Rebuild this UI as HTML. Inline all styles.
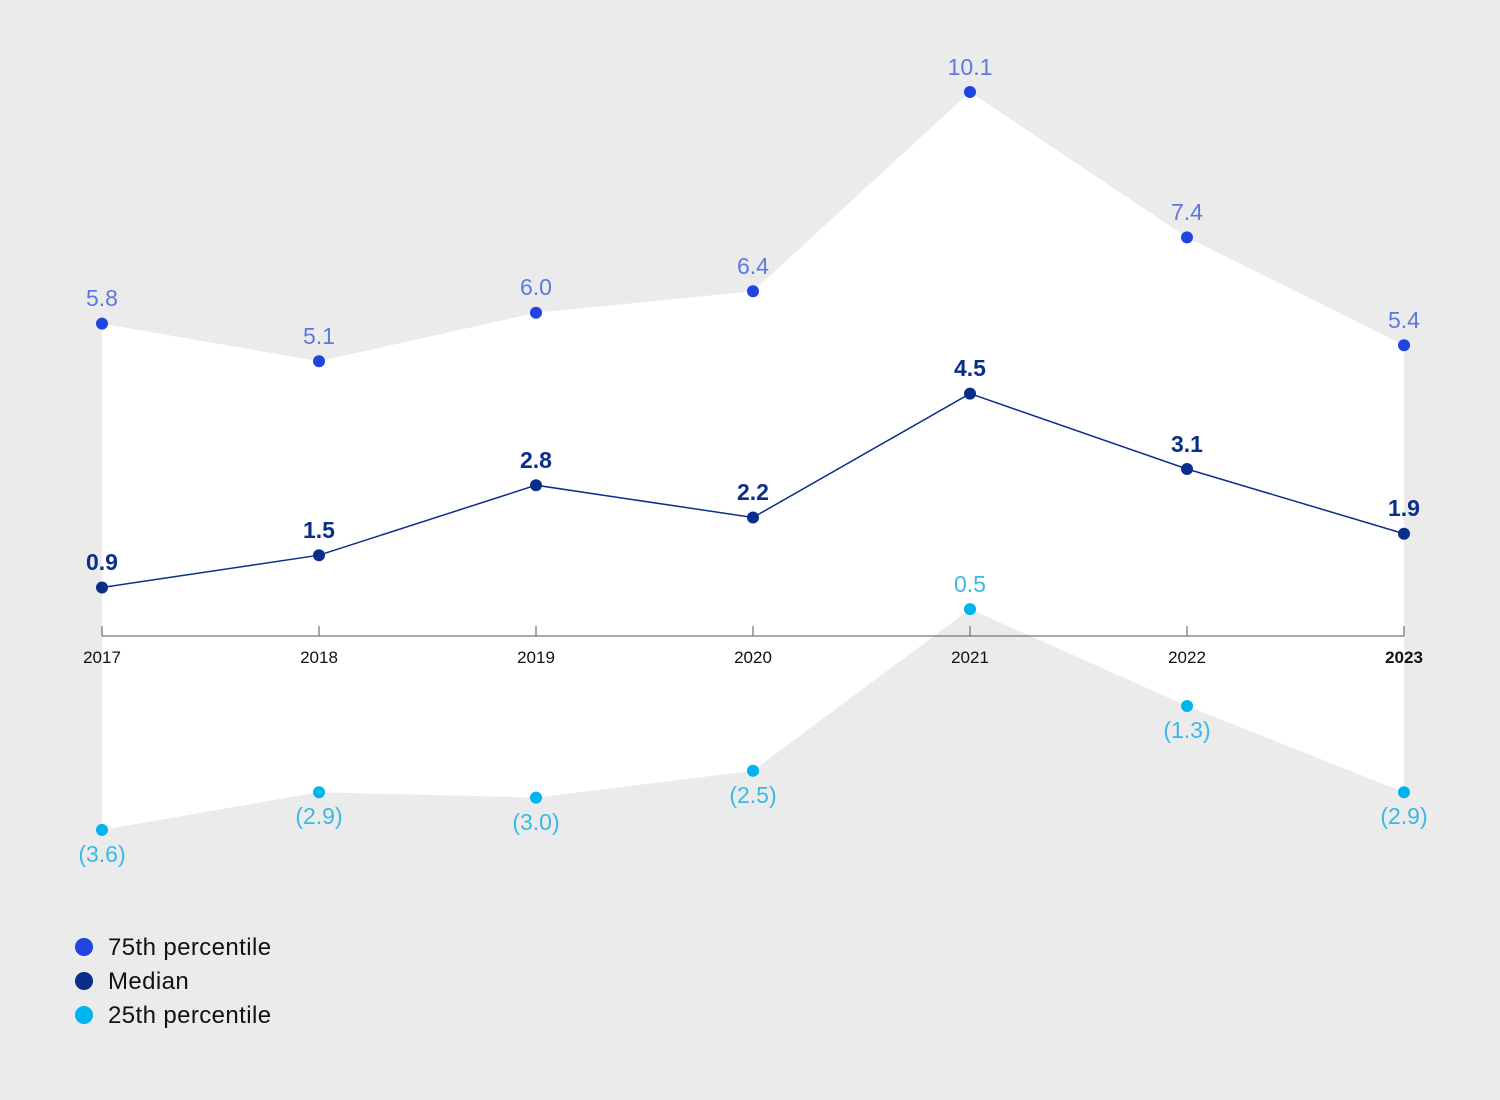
<!DOCTYPE html>
<html><head><meta charset="utf-8"><style>
html,body{margin:0;padding:0;background:#ebebeb;}
svg{display:block;font-family:"Liberation Sans",sans-serif;}
</style></head><body>
<svg width="1500" height="1100" viewBox="0 0 1500 1100" xmlns="http://www.w3.org/2000/svg">
<rect width="1500" height="1100" fill="#ebebeb"/>
<polygon fill="#ffffff" points="102,323.6 319,361.3 536,312.8 753,291.3 970,92 1187,237.4 1404,345.2 1404,792.2 1187,706 970,609.1 753,770.7 536,797.6 319,792.2 102,829.9"/>
<line x1="102" y1="636" x2="1404" y2="636" stroke="#777" stroke-width="1.2"/>
<g stroke="#555" stroke-width="1">
<line x1="102" y1="626" x2="102" y2="636"/><line x1="319" y1="626" x2="319" y2="636"/><line x1="536" y1="626" x2="536" y2="636"/><line x1="753" y1="626" x2="753" y2="636"/><line x1="970" y1="626" x2="970" y2="636"/><line x1="1187" y1="626" x2="1187" y2="636"/><line x1="1404" y1="626" x2="1404" y2="636"/>
</g>
<g font-size="17" fill="#111" text-anchor="middle">
<text x="102" y="663">2017</text><text x="319" y="663">2018</text><text x="536" y="663">2019</text><text x="753" y="663">2020</text><text x="970" y="663">2021</text><text x="1187" y="663">2022</text><text x="1404" y="663" font-weight="bold">2023</text>
</g>
<polyline fill="none" stroke="#0a2f8a" stroke-width="1.5" points="102,587.5 319,555.2 536,485.2 753,517.5 970,393.6 1187,469 1404,533.7"/>
<g fill="#1f44e0">
<circle cx="102" cy="323.6" r="6"/><circle cx="319" cy="361.3" r="6"/><circle cx="536" cy="312.8" r="6"/><circle cx="753" cy="291.3" r="6"/><circle cx="970" cy="92" r="6"/><circle cx="1187" cy="237.4" r="6"/><circle cx="1404" cy="345.2" r="6"/>
</g>
<g fill="#0a2f8a">
<circle cx="102" cy="587.5" r="6"/><circle cx="319" cy="555.2" r="6"/><circle cx="536" cy="485.2" r="6"/><circle cx="753" cy="517.5" r="6"/><circle cx="970" cy="393.6" r="6"/><circle cx="1187" cy="469" r="6"/><circle cx="1404" cy="533.7" r="6"/>
</g>
<g fill="#00b4f0">
<circle cx="102" cy="829.9" r="6"/><circle cx="319" cy="792.2" r="6"/><circle cx="536" cy="797.6" r="6"/><circle cx="753" cy="770.7" r="6"/><circle cx="970" cy="609.1" r="6"/><circle cx="1187" cy="706" r="6"/><circle cx="1404" cy="792.2" r="6"/>
</g>
<g font-size="23" fill="#5f78e0" text-anchor="middle">
<text x="102" y="306">5.8</text><text x="319" y="344">5.1</text><text x="536" y="295">6.0</text><text x="753" y="274">6.4</text><text x="970" y="75">10.1</text><text x="1187" y="220">7.4</text><text x="1404" y="328">5.4</text>
</g>
<g font-size="23" fill="#0a2f8a" font-weight="bold" text-anchor="middle">
<text x="102" y="570">0.9</text><text x="319" y="538">1.5</text><text x="536" y="468">2.8</text><text x="753" y="500">2.2</text><text x="970" y="376">4.5</text><text x="1187" y="452">3.1</text><text x="1404" y="516">1.9</text>
</g>
<g font-size="23" fill="#3cb8e6" text-anchor="middle">
<text x="102" y="862">(3.6)</text><text x="319" y="824">(2.9)</text><text x="536" y="830">(3.0)</text><text x="753" y="803">(2.5)</text><text x="970" y="592">0.5</text><text x="1187" y="738">(1.3)</text><text x="1404" y="824">(2.9)</text>
</g>
<circle cx="84" cy="947" r="9" fill="#1f44e0"/>
<circle cx="84" cy="981" r="9" fill="#0a2f8a"/>
<circle cx="84" cy="1015" r="9" fill="#00b4f0"/>
<g font-size="24" fill="#111" letter-spacing="0.4">
<text x="108" y="955">75th percentile</text>
<text x="108" y="989">Median</text>
<text x="108" y="1023">25th percentile</text>
</g>
</svg>
</body></html>
